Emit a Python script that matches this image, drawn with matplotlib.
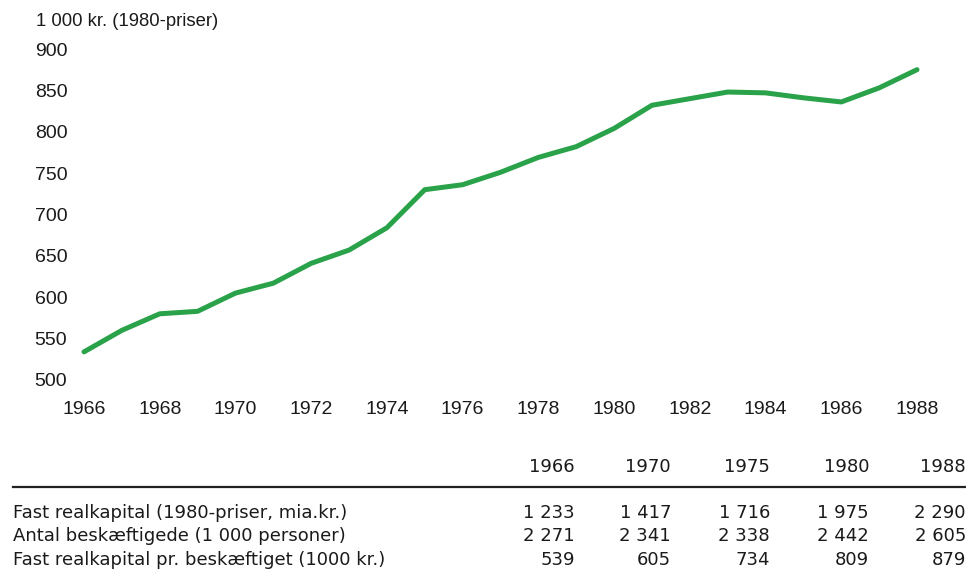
import matplotlib.pyplot as plt
from matplotlib.lines import Line2D

# line data (1 000 kr., 1980-priser)
years = list(range(1966, 1989))
kapital_pr_beskaeftiget = [534, 560, 580, 583, 605, 617, 641, 657, 684, 730, 736,
                           751, 769, 782, 804, 832, 840, 848, 847, 841, 836, 853, 875]

# table under the chart
tabel_aar = ['1966', '1970', '1975', '1980', '1988']
tabel_raekker = [
    'Fast realkapital (1980-priser, mia.kr.)',
    'Antal beskæftigede (1 000 personer)',
    'Fast realkapital pr. beskæftiget (1000 kr.)',
]
fast_realkapital = ['1 233', '1 417', '1 716', '1 975', '2 290']
antal_beskaeftigede = ['2 271', '2 341', '2 338', '2 442', '2 605']
kapital_pr_person = ['539', '605', '734', '809', '879']

W, H = 966, 575
fig = plt.figure(figsize=(W / 100, H / 100), dpi=100)

# axes placed so 1966..1988 and 500..900 land where they are in the picture
ax = fig.add_axes([84 / W, 1 - 380 / H, (917 - 84) / W, (380 - 49) / H])
ax.plot(years, kapital_pr_beskaeftiget, color='#2aa24a', lw=3.6,
        solid_capstyle='round', solid_joinstyle='round', clip_on=False)
ax.set_xlim(1966, 1988)
ax.set_ylim(500, 900)
ax.set_xticks(range(1966, 1989, 2))
ax.set_yticks(range(500, 901, 50))
for s in ax.spines.values():
    s.set_visible(False)
ax.tick_params(length=0, colors='#1a1a1a')
ax.tick_params(axis='y', pad=12)
ax.tick_params(axis='x', pad=15)
for lab in ax.get_xticklabels() + ax.get_yticklabels():
    lab.set_family('Liberation Sans')
    lab.set_fontsize(14)

fig.text(36 / W, 1 - 22 / H, '1 000 kr. (1980-priser)', family='Liberation Sans',
         fontsize=13.3, va='center', ha='left', color='#1a1a1a')

# table
tf = dict(family='DejaVu Sans', fontsize=13, color='#1a1a1a', va='center')
col_x = [575, 671, 770, 869, 966]
for x, a in zip(col_x, tabel_aar):
    fig.text(x / W, 1 - 467 / H, a, ha='right', **tf)

fig.add_artist(Line2D([13 / W, 1], [1 - 487 / H, 1 - 487 / H], color='#222222', lw=1.6,
                      transform=fig.transFigure))

row_y = [513, 536, 560]
for y, navn, vals in zip(row_y, tabel_raekker,
                         [fast_realkapital, antal_beskaeftigede, kapital_pr_person]):
    fig.text(13 / W, 1 - y / H, navn, ha='left', **tf)
    for x, v in zip(col_x, vals):
        fig.text(x / W, 1 - y / H, v, ha='right', **tf)

fig.savefig('out.png', dpi=100, facecolor='white')
